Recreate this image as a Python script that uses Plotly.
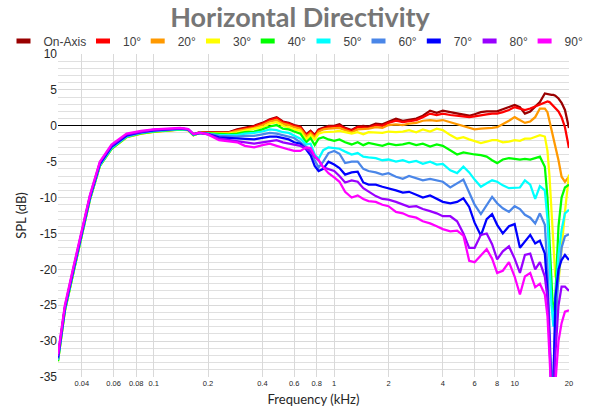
import plotly.graph_objects as go

# ---------------- data ----------------
freq_khz = [
    0.0295, 0.0322, 0.0358, 0.0398, 0.0443, 0.0503, 0.0584, 0.0708, 0.085, 0.1, 0.12, 0.14, 0.155, 0.166, 0.18, 0.2,
    0.23, 0.26, 0.29, 0.32, 0.36, 0.4, 0.44, 0.48, 0.52,
    0.56, 0.6, 0.65, 0.7, 0.74, 0.78, 0.82, 0.87, 0.93,
    1.0, 1.07, 1.15, 1.25, 1.35, 1.45, 1.55, 1.7, 1.85,
    2.0, 2.2, 2.4, 2.6, 2.85, 3.1, 3.4, 3.7, 4.0,
    4.4, 4.8, 5.2, 5.6, 6.0, 6.5, 7.0, 7.5, 8.0,
    8.6, 9.3, 10.0, 10.7, 11.4, 12.2, 13.0, 13.8, 14.7,
    15.2, 15.6, 16.0, 16.4, 16.8, 17.5, 18.2, 19.0, 20.0,
]

spl_on_axis = [
    -32.3, -25.4, -20.2, -15.1, -10.0, -5.3, -2.9, -1.35, -0.9, -0.65, -0.5, -0.4, -0.5, -1.2, -0.9, -0.9,
    -0.8, -0.9, -0.5, -0.3, 0.0, 0.4, 0.9, 1.2, 0.6,
    0.4, 0.1, -0.1, -1.2, -0.7, -1.3, -0.5, -0.3, 0.0,
    0.0, 0.2, -0.3, -0.6, -0.1, 0.0, -0.1, 0.3, 0.2,
    0.6, 1.0, 0.7, 0.8, 1.0, 1.4, 2.1, 1.8, 2.1,
    1.9, 1.7, 1.5, 1.4, 1.6, 1.9, 2.0, 2.0, 2.0,
    2.3, 2.6, 2.9, 2.6, 1.7, 2.0, 2.7, 3.3, 4.5,
    4.4, 4.3, 4.3, 4.3, 4.2, 3.8, 3.2, 2.2, -0.3,
]
spl_10 = [
    -32.4, -25.5, -20.3, -15.2, -10.1, -5.4, -3.0, -1.4, -0.95, -0.7, -0.55, -0.45, -0.55, -1.25, -0.95, -0.95,
    -0.9, -0.95, -0.6, -0.4, -0.1, 0.3, 0.8, 1.1, 0.5,
    0.3, 0.0, -0.2, -1.3, -0.8, -1.4, -0.6, -0.4, -0.2,
    -0.1, 0.0, -0.4, -0.7, -0.2, -0.2, -0.3, 0.1, 0.0,
    0.4, 0.7, 0.5, 0.6, 0.8, 1.2, 1.7, 1.5, 1.7,
    1.5, 1.4, 1.3, 1.2, 1.3, 1.5, 1.6, 1.7, 1.7,
    1.9, 2.2, 2.6, 2.4, 2.2, 2.4, 2.7, 2.9, 3.3,
    3.4, 3.3, 3.0, 2.8, 2.5, 2.0, 1.2, -0.2, -3.1,
]
spl_20 = [
    -32.7, -25.7, -20.5, -15.4, -10.3, -5.6, -3.2, -1.6, -1.1, -0.85, -0.7, -0.55, -0.6, -1.3, -1.0, -1.0,
    -1.0, -1.0, -0.7, -0.5, -0.3, 0.1, 0.6, 0.8, 0.3,
    0.1, -0.2, -0.4, -1.5, -1.0, -1.6, -0.8, -0.5, -0.4,
    -0.3, -0.3, -0.6, -0.9, -0.5, -0.5, -0.4, -0.2, -0.3,
    0.1, 0.2, 0.1, 0.3, 0.4, 0.7, 0.8, 0.7, 0.8,
    0.5, 0.3, 0.0, -0.2, -0.5, -0.4, -0.4, -0.3, -0.2,
    0.2, 0.7, 1.2, 0.8, 0.4, 0.6, 1.2, 2.4, 2.4,
    1.9, 0.7, -0.6, -1.6, -2.8, -4.8, -7.1, -7.8, -7.1,
]
spl_30 = [
    -32.8, -25.8, -20.6, -15.5, -10.3, -5.6, -3.2, -1.6, -1.1, -0.85, -0.65, -0.5, -0.6, -1.3, -1.0, -1.05,
    -1.1, -1.1, -0.9, -0.7, -0.5, -0.2, 0.3, 0.5, 0.0,
    -0.2, -0.5, -0.7, -1.9, -1.3, -1.9, -1.1, -0.9, -0.9,
    -0.8, -0.7, -0.9, -1.1, -0.9, -1.2, -0.9, -1.0, -1.0,
    -0.8, -0.9, -0.8, -0.6, -0.9, -0.5, -0.8, -0.4, -0.6,
    -1.3, -1.8, -1.6, -1.9, -2.1, -2.4, -2.2, -2.0, -2.0,
    -2.3, -2.2, -2.0, -2.1, -1.8, -1.8, -1.5, -1.3, -1.5,
    -3.5, -7.0, -11.5, -16.5, -21.0, -21.8, -16.8, -12.0, -6.8,
]
spl_40 = [
    -32.8, -25.8, -20.6, -15.4, -10.3, -5.6, -3.2, -1.55, -1.05, -0.8, -0.6, -0.5, -0.55, -1.3, -1.0, -1.05,
    -1.2, -1.2, -1.1, -0.9, -0.8, -0.5, -0.1, 0.1, -0.4,
    -0.5, -0.8, -1.1, -2.3, -1.7, -2.7, -1.8, -1.6, -1.9,
    -2.1, -1.9, -2.3, -2.6, -2.3, -2.7, -2.4, -2.6, -2.8,
    -2.5, -2.7, -2.6, -2.4, -2.7, -2.5, -2.9, -2.6, -2.8,
    -3.4, -4.0, -3.7, -3.9, -4.0, -4.1, -4.3, -4.8, -5.2,
    -4.7, -4.5, -4.6, -4.7, -4.6, -4.7, -4.5, -4.3, -5.7,
    -10.0, -16.0, -22.0, -27.0, -24.0, -14.0, -10.0, -8.6, -8.2,
]
spl_50 = [
    -32.6, -25.6, -20.4, -15.3, -10.2, -5.5, -3.1, -1.5, -1.0, -0.75, -0.55, -0.45, -0.55, -1.25, -1.0, -1.1,
    -1.3, -1.3, -1.3, -1.1, -1.0, -0.8, -0.5, -0.6, -0.9,
    -1.0, -1.4, -1.8, -2.6, -2.5, -4.0, -4.6, -3.4, -3.0,
    -3.1, -3.2, -3.6, -4.0, -3.8, -4.3, -4.4, -4.5, -4.8,
    -4.7, -5.0, -4.8, -5.1, -4.9, -5.3, -5.0, -5.4, -5.3,
    -6.2, -6.6, -5.7, -6.5, -7.5, -8.5, -8.0, -7.6, -7.8,
    -8.3, -8.7, -8.6, -8.6, -7.6, -8.2, -10.2, -8.4, -9.0,
    -13.0, -19.0, -25.0, -28.0, -24.0, -18.0, -14.5, -12.2, -11.7,
]
spl_60 = [
    -32.5, -25.5, -20.3, -15.2, -10.1, -5.4, -3.0, -1.45, -0.95, -0.7, -0.5, -0.4, -0.5, -1.2, -1.0, -1.1,
    -1.4, -1.5, -1.5, -1.4, -1.4, -1.2, -1.0, -1.1, -1.3,
    -1.5, -1.7, -2.3, -2.9, -3.4, -4.8, -5.8, -5.0, -3.8,
    -3.5, -3.9, -5.2, -5.0, -5.0, -6.0, -6.3, -6.5, -6.8,
    -6.6, -7.1, -7.4, -7.0, -7.3, -7.6, -7.4, -7.6, -7.8,
    -8.6, -8.0, -7.5, -9.3, -11.0, -12.3, -11.0, -9.9, -10.8,
    -11.5, -12.0, -11.2, -11.6, -12.4, -12.8, -13.6, -12.2, -13.8,
    -20.0, -28.0, -36.0, -34.0, -28.0, -21.0, -17.0, -15.4, -15.1,
]
spl_70 = [
    -32.3, -25.4, -20.2, -15.1, -10.0, -5.3, -2.9, -1.35, -0.9, -0.65, -0.5, -0.4, -0.5, -1.2, -1.0, -1.15,
    -1.6, -1.7, -1.8, -1.8, -1.9, -1.7, -1.5, -1.5, -1.7,
    -1.9, -2.3, -2.5, -3.3, -4.1, -5.6, -6.3, -6.0, -5.0,
    -5.4, -5.9, -6.8, -6.5, -6.4, -7.9, -8.2, -8.2, -8.5,
    -8.7, -9.0, -9.3, -9.2, -9.6, -10.0, -9.7, -10.2, -10.6,
    -10.8, -10.6, -10.1, -11.3, -13.5, -15.3, -13.0, -12.3, -13.8,
    -15.0, -14.0, -13.7, -17.0, -16.2, -15.2, -16.4, -16.0, -17.8,
    -23.0, -30.0, -37.0, -37.0, -24.0, -20.0, -18.7, -18.0, -18.7,
]
spl_80 = [
    -32.1, -25.2, -20.0, -14.9, -9.8, -5.1, -2.75, -1.2, -0.8, -0.55, -0.45, -0.35, -0.45, -1.15, -1.0, -1.2,
    -1.8, -2.0, -2.1, -2.3, -2.5, -2.3, -2.1, -2.0, -2.3,
    -2.5, -2.6, -2.8, -3.2, -3.6, -4.3, -4.8, -5.8, -6.0,
    -6.3, -7.0, -7.9, -7.6, -7.8, -8.7, -9.2, -9.8, -10.2,
    -10.3, -10.6, -11.0, -11.3, -11.2, -11.6, -11.9, -12.2, -12.6,
    -12.6, -13.3, -15.0, -17.0, -17.0, -15.2, -15.0, -16.5, -18.6,
    -17.5, -16.8, -18.5, -20.5, -18.0, -17.8, -20.0, -19.0, -21.0,
    -24.0, -30.0, -38.0, -38.0, -32.0, -25.0, -22.4, -22.4, -23.0,
]
spl_90 = [
    -31.8, -25.0, -19.8, -14.8, -9.7, -5.0, -2.6, -1.1, -0.7, -0.5, -0.4, -0.3, -0.45, -1.15, -0.95, -1.2,
    -2.0, -2.2, -2.3, -2.8, -3.0, -2.7, -2.5, -2.8, -3.1,
    -3.3, -3.5, -3.5, -3.0, -3.1, -4.2, -4.8, -5.8, -6.6,
    -7.2, -7.8, -9.2, -10.0, -9.7, -10.2, -10.5, -10.6, -11.0,
    -11.2, -12.0, -12.2, -12.6, -12.8, -13.3, -13.6, -14.0, -14.4,
    -14.7, -14.6, -15.3, -18.8, -19.0, -18.0, -17.2, -18.5, -20.5,
    -20.2, -19.0, -21.0, -23.5, -21.0, -20.5, -22.5, -22.0, -23.5,
    -26.5, -32.0, -38.0, -38.0, -36.0, -30.0, -27.5, -25.9, -25.7,
]

series_names = ["On-Axis", "10°", "20°", "30°", "40°", "50°", "60°", "70°", "80°", "90°"]
series_values = [spl_on_axis, spl_10, spl_20, spl_30, spl_40, spl_50, spl_60, spl_70, spl_80, spl_90]

x_tick_vals = [0.04, 0.06, 0.08, 0.1, 0.2, 0.4, 0.6, 0.8, 1, 2, 4, 6, 8, 10, 20]
x_tick_text = ["0.04", "0.06", "0.08", "0.1", "0.2", "0.4", "0.6", "0.8", "1", "2", "4", "6", "8", "10", "20"]
y_tick_vals = [10, 5, 0, -5, -10, -15, -20, -25, -30, -35]
y_tick_text = ["10", "5", "0", "-5", "-10", "-15", "-20", "-25", "-30", "-35"]

# ---------------- style / layout ----------------
series_colors = ["#990000", "#ff0000", "#ff9900", "#ffff00", "#00ff00",
                 "#00ffff", "#4a86e8", "#0000ff", "#9900ff", "#ff00ff"]

W, H = 600, 420
PLOT_LEFT, PLOT_RIGHT, PLOT_TOP, PLOT_BOTTOM = 58, 569, 54, 377   # window pixels
M_L = PLOT_LEFT
M_T = PLOT_TOP
M_R = W - PLOT_RIGHT
M_B = H - PLOT_BOTTOM
PLOT_W = W - M_L - M_R
PLOT_H = H - M_T - M_B
legend_text_px = [43.5, 123, 177.7, 233, 287.7, 343.5, 398.5, 453.8, 509.6, 564.6]
legend_center_py = 41
title_center_py = 18

for n, v in zip(series_names, series_values):
    assert len(v) == len(freq_khz), (n, len(v))

fig = go.Figure()
for name, color, vals in zip(series_names, series_colors, series_values):
    fig.add_trace(go.Scatter(
        x=freq_khz, y=vals, mode="lines", name=name, legendgroup=name,
        showlegend=False, line=dict(color=color, width=2.25),
    ))

legend_layout = {}
for i, (name, color) in enumerate(zip(series_names, series_colors)):
    key = "legend" if i == 0 else f"legend{i + 1}"
    fig.add_trace(go.Scatter(
        x=[None], y=[None], mode="markers", name=name, legendgroup=name,
        legend=key, showlegend=True,
        marker=dict(symbol="line-ew", size=10, color=color,
                    line=dict(width=5, color=color)),
    ))
    legend_layout[key] = dict(
        x=(legend_text_px[i] - 40 - PLOT_LEFT) / PLOT_W,
        y=(PLOT_BOTTOM - legend_center_py) / PLOT_H,
        xanchor="left", yanchor="middle", orientation="h",
        bgcolor="rgba(0,0,0,0)", borderwidth=0,
        font=dict(family="Liberation Sans, Arial, sans-serif", size=12, color="#404040"),
        itemclick=False, itemdoubleclick=False,
    )

fig.update_layout(
    width=W, height=H,
    margin=dict(l=M_L, r=M_R, t=M_T, b=M_B, autoexpand=False),
    paper_bgcolor="white", plot_bgcolor="white",
    hovermode=False,
    title=dict(text="<b>Horizontal Directivity</b>", x=0.5, xref="container",
               xanchor="center",
               y=1 - title_center_py / H, yref="container", yanchor="middle",
               font=dict(family="Lato, Open Sans, sans-serif", size=27, color="#767676")),
    xaxis=dict(
        type="log", range=[-1.5302, 1.3012],
        tickmode="array", tickvals=x_tick_vals, ticktext=x_tick_text,
        showgrid=True, gridcolor="#d9d9d9", gridwidth=1,
        zeroline=False, showline=False, ticks="",
        tickfont=dict(family="Liberation Sans, Arial, sans-serif", size=7.5, color="#262626"),
        title=dict(text="Frequency (kHz)", standoff=8,
                   font=dict(family="Lato, Open Sans, sans-serif", size=13, color="#262626")),
    ),
    yaxis=dict(
        range=[-35, 10],
        tickmode="array", tickvals=y_tick_vals, ticktext=y_tick_text,
        showgrid=True, gridcolor="#d9d9d9", gridwidth=1,
        minor=dict(tickmode="linear", tick0=0, dtick=1, showgrid=True, gridcolor="#e0e0e0", gridwidth=1),
        zeroline=True, zerolinecolor="#000000", zerolinewidth=1,
        showline=False, ticks="",
        tickfont=dict(family="Liberation Sans, Arial, sans-serif", size=12, color="#262626"),
        title=dict(text="SPL (dB)", standoff=10,
                   font=dict(family="Lato, Open Sans, sans-serif", size=13, color="#262626")),
    ),
    **legend_layout,
)

# place the 600x420 figure at the window's top-left corner (no default body margin)
fig.write_html(
    "out.html",
    config={"displayModeBar": False},
    post_script="document.body.style.margin='0';",
)
